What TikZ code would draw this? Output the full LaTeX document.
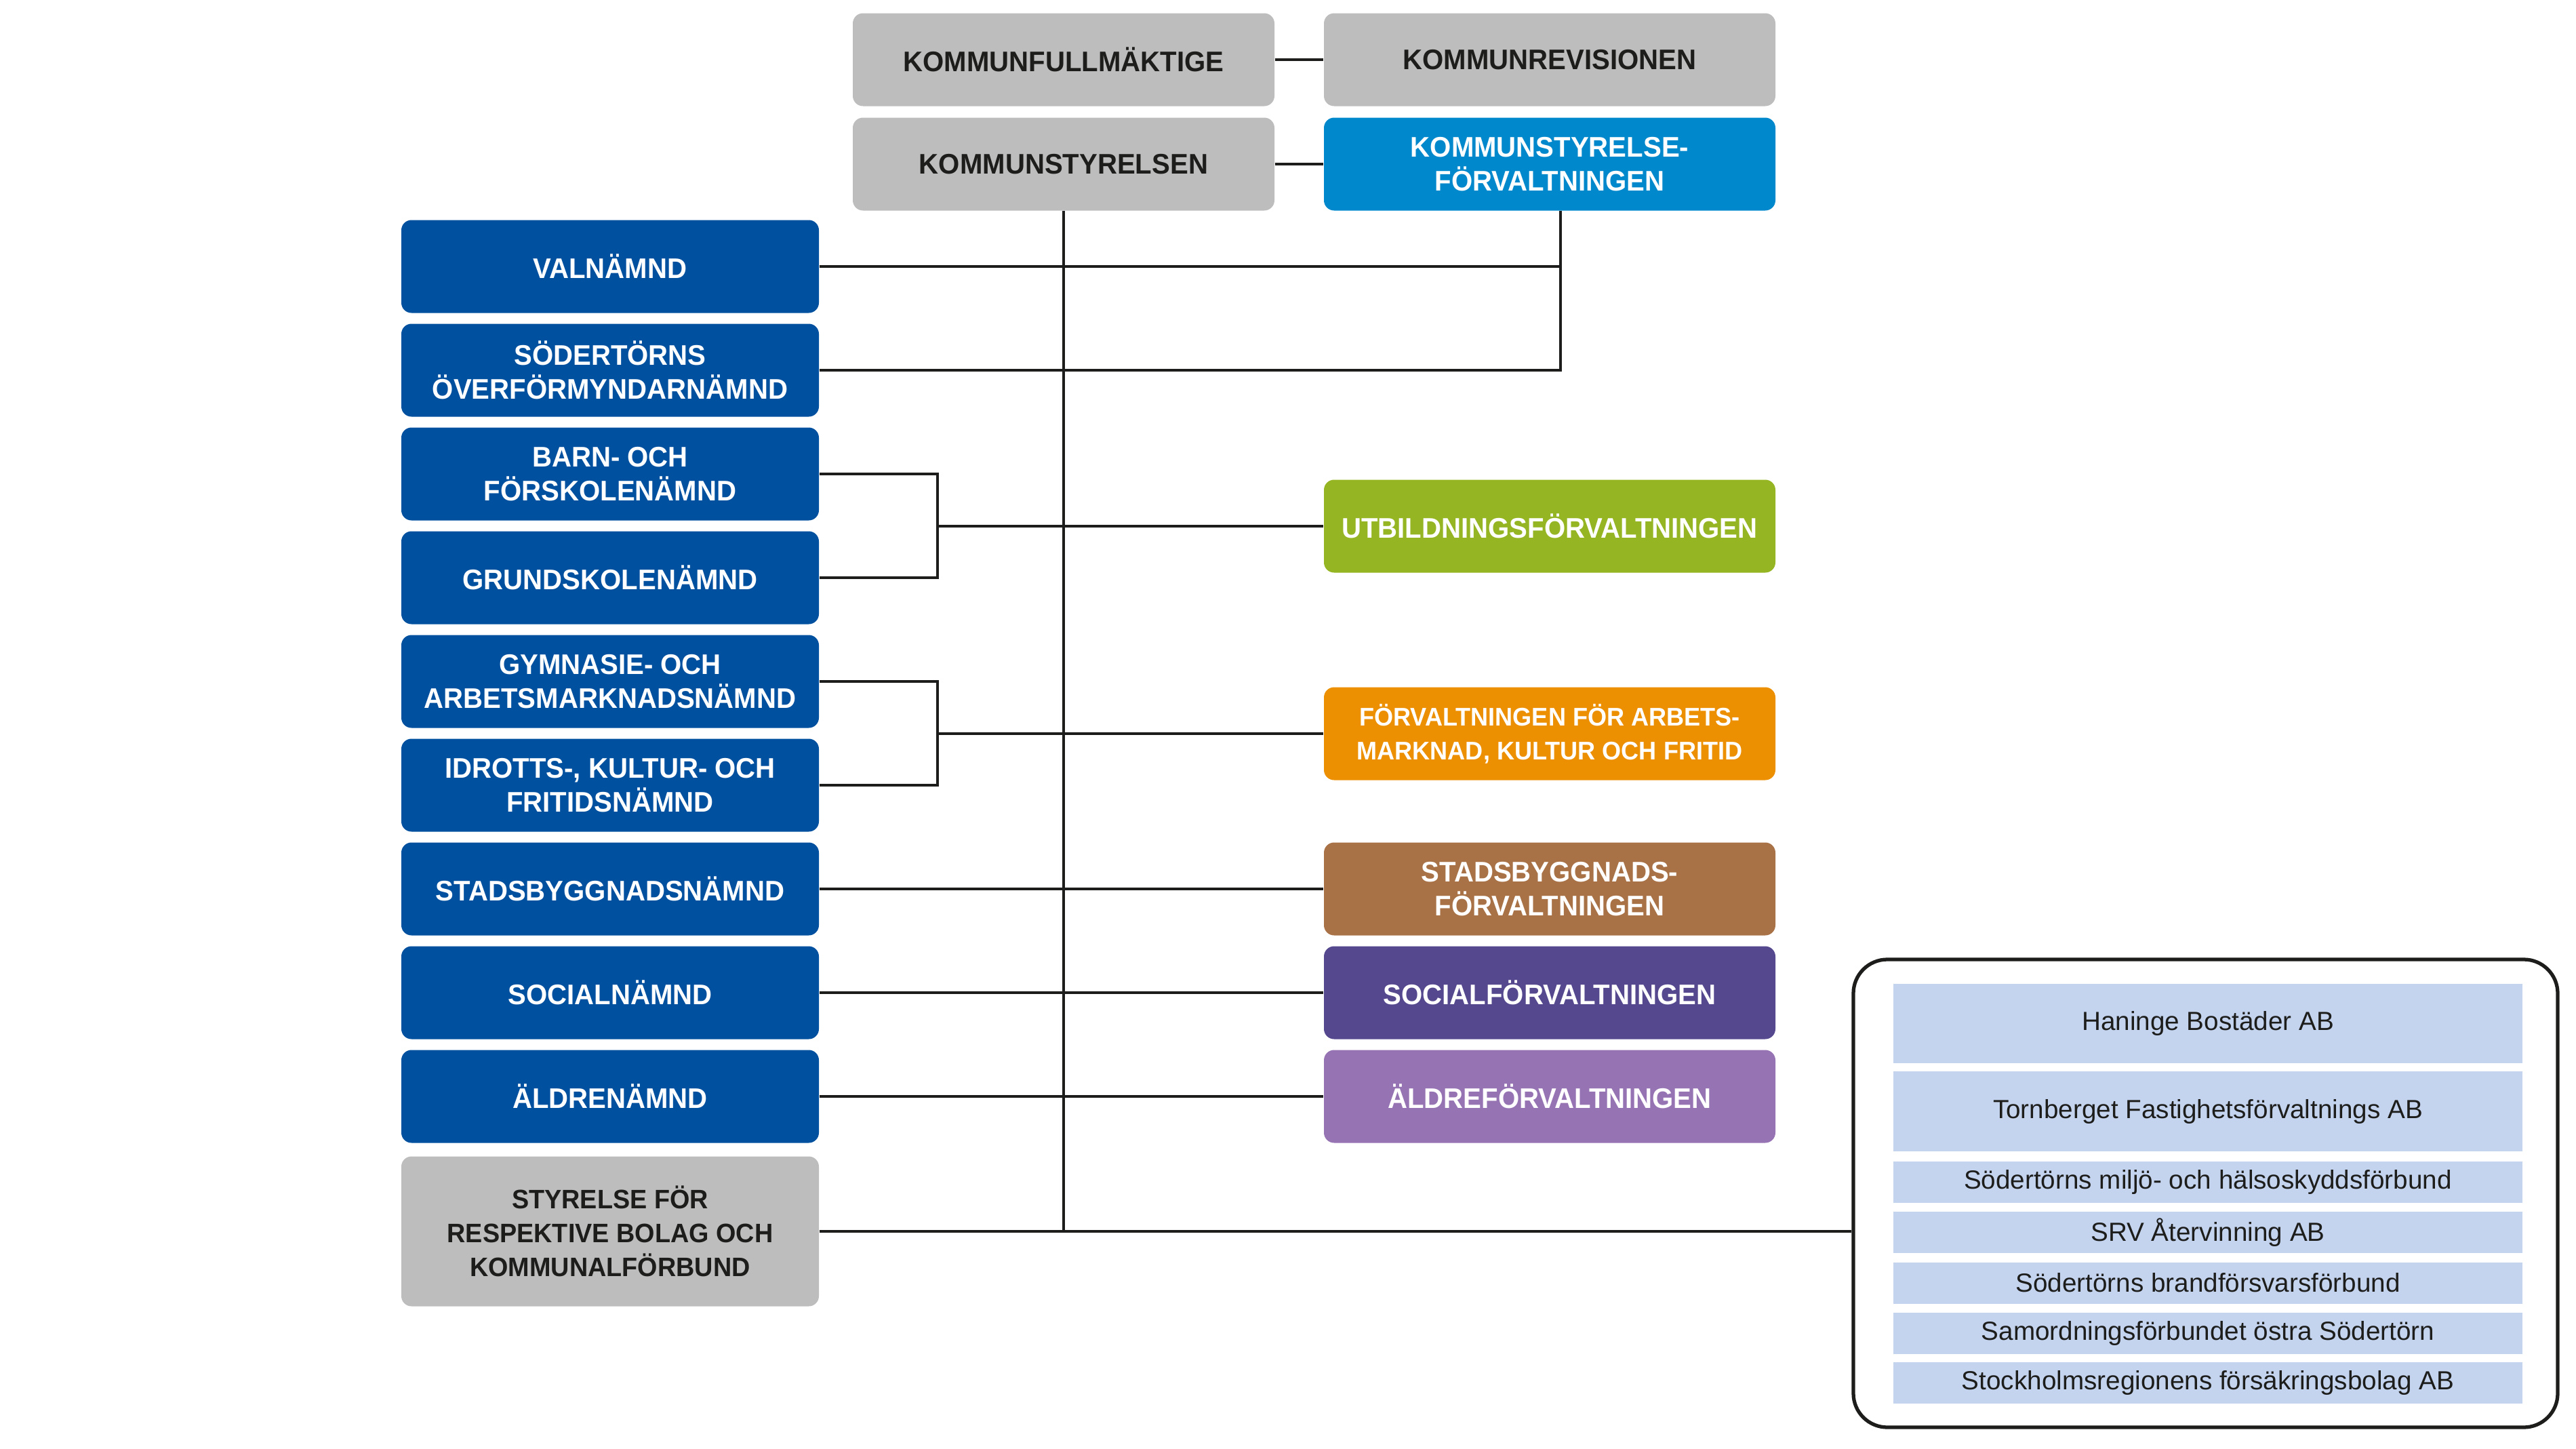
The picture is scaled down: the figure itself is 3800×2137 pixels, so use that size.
\documentclass[tikz,border=0pt]{standalone}
\usepackage{fontspec}
\setmainfont{Liberation Sans}
\newfontfamily\boxfont[FakeStretch=0.96]{Liberation Sans}
\usepackage{tikz}

\definecolor{ink}{HTML}{1D1D1B}
\definecolor{ksgray}{HTML}{BDBDBD}
\definecolor{nblue}{HTML}{0050A0}
\definecolor{ksfblue}{HTML}{0088CD}
\definecolor{utbgreen}{HTML}{95B523}
\definecolor{arborange}{HTML}{EC8F00}
\definecolor{sbbrown}{HTML}{A97246}
\definecolor{socpurple}{HTML}{55488E}
\definecolor{aldlilac}{HTML}{9674B4}
\definecolor{bolagblue}{HTML}{C4D4EF}

\begin{document}
\begin{tikzpicture}[x=0.1mm, y=-0.1mm,
  unit/.style={
    rounded corners=1.5mm, minimum height=13.7mm, inner sep=0pt, align=center,
    text=white, font=\boxfont\bfseries\fontsize{11.9}{14.2}\selectfont,
  },
  grey unit/.style={unit, fill=ksgray, text=ink},
  board/.style={unit, fill=nblue, minimum width=61.6mm},
  office/.style={unit, minimum width=66.6mm},
  company/.style={
    fill=bolagblue, minimum width=92.8mm, inner sep=0pt, text=ink,
    font=\fontsize{11}{13}\selectfont,
  },
  link/.style={draw=ink, line width=1.2pt},
  ]
  \useasboundingbox (0,0) rectangle (3800,2137);
  % top
  \node [grey unit, minimum width=62.2mm] (kf) at (1569,88) {KOMMUNFULLMÄKTIGE};
  \node [office, fill=ksgray, text=ink] (kr) at (2286,88) {KOMMUNREVISIONEN};
  \node [grey unit, minimum width=62.2mm] (ks) at (1569,242) {KOMMUNSTYRELSEN};
  \node [office, fill=ksfblue] (ksf) at (2286,242) {KOMMUNSTYRELSE-\\FÖRVALTNINGEN};
  % boards
  \node [board] (valn) at (900,393) {VALNÄMND};
  \node [board] (sod) at (900,546) {SÖDERTÖRNS\\ÖVERFÖRMYNDARNÄMND};
  \node [board] (barn) at (900,699) {BARN- OCH\\FÖRSKOLENÄMND};
  \node [board] (grund) at (900,852) {GRUNDSKOLENÄMND};
  \node [board] (gym) at (900,1005) {GYMNASIE- OCH\\ARBETSMARKNADSNÄMND};
  \node [board] (idr) at (900,1158) {IDROTTS-, KULTUR- OCH\\FRITIDSNÄMND};
  \node [board] (stads) at (900,1311) {STADSBYGGNADSNÄMND};
  \node [board] (soc) at (900,1464) {SOCIALNÄMND};
  \node [board] (ald) at (900,1617) {ÄLDRENÄMND};
  \node [grey unit, minimum width=61.6mm, minimum height=22.1mm,
    font=\boxfont\bfseries\fontsize{11.2}{14.2}\selectfont] (styr) at (900,1816)
    {STYRELSE FÖR\\RESPEKTIVE BOLAG OCH\\KOMMUNALFÖRBUND};
  % offices
  \node [office, fill=utbgreen] (utb) at (2286,776) {UTBILDNINGSFÖRVALTNINGEN};
  \node [office, fill=arborange, font=\boxfont\bfseries\fontsize{10.7}{14.2}\selectfont]
    (arb) at (2286,1082) {FÖRVALTNINGEN FÖR ARBETS-\\MARKNAD, KULTUR OCH FRITID};
  \node [office, fill=sbbrown] (stadsf) at (2286,1311) {STADSBYGGNADS-\\FÖRVALTNINGEN};
  \node [office, fill=socpurple] (socf) at (2286,1464) {SOCIALFÖRVALTNINGEN};
  \node [office, fill=aldlilac] (aldf) at (2286,1617) {ÄLDREFÖRVALTNINGEN};
  % companies
  \node [draw=ink, line width=1.5pt, rounded corners=5mm, minimum width=103.9mm,
    minimum height=69mm, inner sep=0pt] (bolag) at (3253.5,1760) {};
  \node [company, minimum height=11.7mm] (hb) at (3257,1509.5) {Haninge Bostäder AB};
  \node [company, minimum height=11.8mm] (tf) at (3257,1639) {Tornberget Fastighetsförvaltnings AB};
  \foreach \name/\y/\txt in {smh/1743.5/Södertörns miljö- och hälsoskyddsförbund,
      srv/1817.5/SRV Återvinning AB, sbf/1892/Södertörns brandförsvarsförbund,
      sos/1966/Samordningsförbundet östra Södertörn,
      sfb/2039.5/Stockholmsregionens försäkringsbolag AB}
    \node [company, minimum height=6.1mm] (\name) at (3257,\y) {\txt};

  \coordinate (ksfdrop) at ([xshift=1.6mm]ksf.south);
  \coordinate (trunkend) at (ks.south |- styr.east);
  \coordinate (b1) at (1383,776);
  \coordinate (b2) at (1383,1082);
  \draw [link] (kf) -- (kr);
  \draw [link] (ks) -- (ksf);
  \draw [link] (ks.south) -- (trunkend);
  \draw [link] (valn.east) -- (valn.east -| ksfdrop);
  \draw [link] (sod.east) -| (ksfdrop);
  \draw [link] (barn.east) -| (b1) |- (grund.east);
  \draw [link] (b1) -- (utb.west);
  \draw [link] (gym.east) -| (b2) |- (idr.east);
  \draw [link] (b2) -- (arb.west);
  \draw [link] (stads) -- (stadsf);
  \draw [link] (soc) -- (socf);
  \draw [link] (ald) -- (aldf);
  \draw [link] (styr.east) -- (styr.east -| bolag.west);
  %\draw [link] (ks.south) -- (styr.east -| ks.south);
\end{tikzpicture}
\end{document}
